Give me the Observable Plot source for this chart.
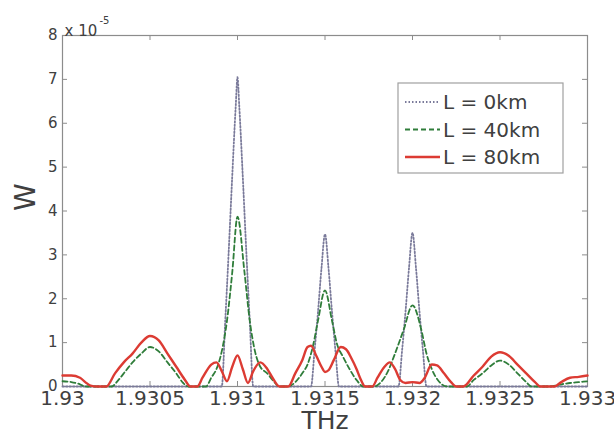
<!DOCTYPE html>
<html>
<head>
<meta charset="utf-8">
<script src="https://cdn.jsdelivr.net/npm/d3@7"></script>
<script src="https://cdn.jsdelivr.net/npm/@observablehq/plot@0.6"></script>
<style>
  html, body { margin: 0; padding: 0; background: #fff; }
  #chart { width: 614px; height: 434px; }
</style>
</head>
<body>
<div id="chart"></div>
<script>
// ---- data (W in units of 1e-5) ----
const seriesNames = ["L = 0km", "L = 40km", "L = 80km"];
const seriesColors = ["#7a7a9a", "#2f7d3a", "#dc3b33"];
const seriesDash = ["1.5,2", "5,3", null];

const freq0 = [1.93, 1.93091, 1.93093, 1.93095, 1.93097, 1.93099, 1.931, 1.93101, 1.93103, 1.93105, 1.93107, 1.93109,
  1.93142, 1.93144, 1.93146, 1.93148, 1.9315, 1.93152, 1.93154, 1.93156, 1.93158,
  1.93192, 1.93194, 1.93196, 1.93198, 1.932, 1.93202, 1.93204, 1.93206, 1.93208, 1.933];
const w0 = [0, 0, 1.5, 3.1, 4.8, 6.4, 7.05, 6.4, 4.8, 3.1, 1.5, 0,
  0, 0.8, 1.7, 2.7, 3.47, 2.7, 1.7, 0.8, 0,
  0, 0.8, 1.7, 2.7, 3.5, 2.7, 1.7, 0.8, 0, 0];

const freq40 = [1.93, 1.93005, 1.9301, 1.93013, 1.93028, 1.93032, 1.93036, 1.9304, 1.93045, 1.9305, 1.93055, 1.9306, 1.93065, 1.93069, 1.93072,
  1.93082, 1.93085, 1.93088, 1.93091, 1.93094, 1.93097, 1.931, 1.93104, 1.93107, 1.9311, 1.93113, 1.93117, 1.9312, 1.93124,
  1.93129, 1.93133, 1.93137, 1.9314, 1.93143, 1.93146, 1.9315, 1.93154, 1.93157, 1.9316, 1.93164, 1.93168, 1.93172,
  1.93178, 1.93182, 1.93186, 1.9319, 1.93195, 1.932, 1.93205, 1.93208, 1.93211, 1.93215, 1.9322,
  1.93231, 1.93235, 1.9324, 1.93245, 1.9325, 1.93255, 1.9326, 1.93265, 1.93268,
  1.93278, 1.93285, 1.9329, 1.93295, 1.933];
const w40 = [0.12, 0.1, 0.05, 0, 0, 0.15, 0.35, 0.55, 0.75, 0.9, 0.8, 0.55, 0.3, 0.08, 0,
  0, 0.2, 0.4, 0.8, 1.5, 2.6, 3.87, 2.6, 1.5, 0.8, 0.45, 0.3, 0.15, 0,
  0, 0.1, 0.3, 0.5, 0.9, 1.5, 2.19, 1.5, 0.95, 0.7, 0.4, 0.15, 0,
  0, 0.1, 0.35, 0.75, 1.3, 1.85, 1.3, 0.75, 0.4, 0.12, 0,
  0, 0.15, 0.3, 0.48, 0.59, 0.5, 0.3, 0.1, 0,
  0, 0.05, 0.08, 0.1, 0.12];

const freq80 = [1.93, 1.93005, 1.9301, 1.93013, 1.93016, 1.9302, 1.93025, 1.9303, 1.93035, 1.9304, 1.93045, 1.9305, 1.93055, 1.9306, 1.93065, 1.9307, 1.93073,
  1.93077, 1.9308, 1.93085, 1.93088, 1.93091, 1.93094, 1.93097, 1.931, 1.93103, 1.93106, 1.93109, 1.93113, 1.93117, 1.9312, 1.93124,
  1.93129, 1.93133, 1.93137, 1.9314, 1.93142, 1.93145, 1.93148, 1.9315, 1.93152, 1.93155, 1.93159, 1.93162, 1.93165, 1.93168, 1.9317, 1.93173,
  1.93177, 1.9318, 1.93184, 1.93187, 1.9319, 1.93193, 1.93196, 1.932, 1.93204, 1.93207, 1.93211, 1.93214, 1.93218, 1.93222, 1.93225,
  1.93229, 1.93235, 1.9324, 1.93245, 1.9325, 1.93255, 1.9326, 1.93265, 1.9327, 1.93273,
  1.93281, 1.93285, 1.9329, 1.93295, 1.933];
const w80 = [0.25, 0.25, 0.2, 0.1, 0.02, 0, 0, 0.3, 0.55, 0.75, 1.0, 1.15, 1.05, 0.75, 0.45, 0.15, 0,
  0, 0.2, 0.5, 0.55, 0.35, 0.12, 0.45, 0.71, 0.4, 0.08, 0.35, 0.55, 0.4, 0.2, 0,
  0, 0.3, 0.6, 0.9, 0.93, 0.7, 0.45, 0.33, 0.37, 0.6, 0.9, 0.85, 0.65, 0.4, 0.2, 0,
  0, 0.2, 0.45, 0.55, 0.4, 0.15, 0.08, 0.1, 0.08, 0.2, 0.5, 0.48, 0.3, 0.1, 0,
  0, 0.25, 0.45, 0.68, 0.78, 0.7, 0.5, 0.3, 0.1, 0,
  0, 0.1, 0.2, 0.22, 0.25];

const xTicks = [1.93, 1.9305, 1.931, 1.9315, 1.932, 1.9325, 1.933];
const xTickLabels = ["1.93", "1.9305", "1.931", "1.9315", "1.932", "1.9325", "1.933"];
const yTicks = [0, 1, 2, 3, 4, 5, 6, 7, 8];
const yTickLabels = ["0", "1", "2", "3", "4", "5", "6", "7", "8"];
const xLabel = "THz";
const yLabel = "W";
const expBase = "x 10";
const expPower = "-5";

// ---- build tables ----
const toRows = (fs, ws) => fs.map((f, i) => ({f, w: ws[i]}));
const series = [toRows(freq0, w0), toRows(freq40, w40), toRows(freq80, w80)];
const xLab = new Map(xTicks.map((t, i) => [t, xTickLabels[i]]));
const yLab = new Map(yTicks.map((t, i) => [t, yTickLabels[i]]));

const W = 614, H = 434;
const mL = 62, mR = 27, mT = 35, mB = 48;
const fw = W - mL - mR, fh = H - mT - mB;
const tickLen = 5;
const axisGray = "#8c8c8c";
const textCol = "#404040";

const lineMarks = series.map((rows, i) => Plot.line(rows, {
  x: "f", y: "w", stroke: seriesColors[i], strokeWidth: i === 2 ? 2.4 : 1.8,
  strokeDasharray: seriesDash[i], curve: "monotone-x"
}));

const chart = Plot.plot({
  width: W, height: H,
  marginLeft: mL, marginRight: mR, marginTop: mT, marginBottom: mB,
  x: {domain: [1.93, 1.933]},
  y: {domain: [0, 8]},
  style: {fontFamily: "DejaVu Sans", background: "#fff", color: textCol},
  marks: [
    Plot.frame({stroke: axisGray, strokeWidth: 1.2}),
    Plot.tickY(yTicks, {y: d => d, stroke: axisGray, insetRight: fw - tickLen}),
    Plot.tickY(yTicks, {y: d => d, stroke: axisGray, insetLeft: fw - tickLen}),
    Plot.tickX(xTicks, {x: d => d, stroke: axisGray, insetTop: fh - tickLen}),
    Plot.tickX(xTicks, {x: d => d, stroke: axisGray, insetBottom: fh - tickLen}),
    ...lineMarks,
    Plot.axisX({ticks: xTicks, tickFormat: d => xLab.get(d), tickSize: 0, tickPadding: 4, fontSize: 20, fill: textCol, label: null}),
    Plot.axisY({ticks: yTicks, tickFormat: d => yLab.get(d), tickSize: 0, tickPadding: 5, fontSize: 15, fill: textCol, label: null}),
    Plot.text([yLabel], {frameAnchor: "left", dx: -36, rotate: -90, fontSize: 28, fill: textCol}),
    Plot.text([xLabel], {frameAnchor: "bottom", dy: 42, fontSize: 25, fill: textCol}),
    Plot.text([expBase], {frameAnchor: "top-left", textAnchor: "start", dx: 2, dy: -10, fontSize: 15, fill: textCol}),
    Plot.text([expPower], {frameAnchor: "top-left", textAnchor: "start", dx: 37, dy: -19, fontSize: 10, fill: textCol})
  ]
});
document.getElementById("chart").appendChild(chart);

// ---- legend box (top-right inside the frame) ----
const svg = d3.select(chart);
const boxW = 165, boxH = 90;
const boxX = W - mR - 24 - boxW, boxY = mT + 48;
const g = svg.append("g").attr("font-family", "DejaVu Sans").attr("text-anchor", "start");
g.append("rect").attr("x", boxX).attr("y", boxY).attr("width", boxW).attr("height", boxH)
  .attr("fill", "#fff").attr("stroke", "#a0a0a0").attr("stroke-width", 1.2);
seriesNames.forEach((name, i) => {
  const cy = boxY + 19 + i * 27.5;
  g.append("line").attr("x1", boxX + 7).attr("x2", boxX + 42).attr("y1", cy).attr("y2", cy)
    .attr("stroke", seriesColors[i]).attr("stroke-width", i === 2 ? 2.4 : 1.8)
    .attr("stroke-dasharray", seriesDash[i]);
  g.append("text").attr("x", boxX + 45).attr("y", cy).attr("dy", "0.35em")
    .attr("text-anchor", "start")
    .attr("font-size", 20).attr("fill", textCol).text(name);
});
</script>
</body>
</html>
